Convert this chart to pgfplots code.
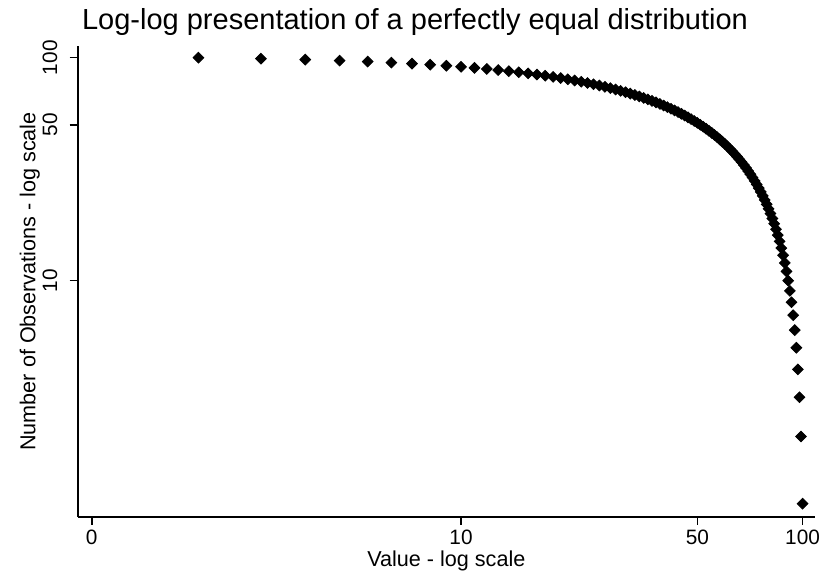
\documentclass[border=0pt]{standalone}
\usepackage{pgfplots}
\pgfplotsset{compat=1.18}
\usepackage{pgfplotstable}
\usepackage{fontspec}
\setmainfont{Liberation Sans}

% value v = 1..100, observations n = 101 - v
\pgfplotstableread{
v n
1 100
2 99
3 98
4 97
5 96
6 95
7 94
8 93
9 92
10 91
11 90
12 89
13 88
14 87
15 86
16 85
17 84
18 83
19 82
20 81
21 80
22 79
23 78
24 77
25 76
26 75
27 74
28 73
29 72
30 71
31 70
32 69
33 68
34 67
35 66
36 65
37 64
38 63
39 62
40 61
41 60
42 59
43 58
44 57
45 56
46 55
47 54
48 53
49 52
50 51
51 50
52 49
53 48
54 47
55 46
56 45
57 44
58 43
59 42
60 41
61 40
62 39
63 38
64 37
65 36
66 35
67 34
68 33
69 32
70 31
71 30
72 29
73 28
74 27
75 26
76 25
77 24
78 23
79 22
80 21
81 20
82 19
83 18
84 17
85 16
86 15
87 14
88 13
89 12
90 11
91 10
92 9
93 8
94 7
95 6
96 5
97 4
98 3
99 2
100 1
}\equaldist

\begin{document}
\begin{tikzpicture}
\begin{axis}[
    name=ax,
    width=368.65pt, height=235.5pt, scale only axis,
    xmode=log, ymode=log,
    xmin=0.913, xmax=109.5,
    ymin=0.871, ymax=112.8,
    axis lines*=left,
    axis line style={line width=1pt},
    every tick/.style={black, line width=0.8pt},
    tick align=outside,
    major tick length=4pt,
    minor xtick={}, minor ytick={},
    xtick={1,11,51,101}, xticklabels={0,10,50,100},
    ytick={10,50,100}, yticklabels={10,50,100},
    log basis x=10, log basis y=10,
    ticklabel style={font=\fontsize{10.4}{12}\selectfont},
    yticklabel style={rotate=90, anchor=south, inner sep=0pt, yshift=6pt},
    xticklabel style={anchor=base, inner sep=0pt, yshift=-10pt},
    label style={font=\fontsize{10.8}{12}\selectfont},
    xlabel={Value - log scale},
    xlabel style={at={(axis description cs:0.5,0)}, anchor=base, inner sep=0pt, yshift=-24.6pt},
    ylabel={Number of Observations - log scale},
    ylabel style={at={(axis description cs:0,0.5)}, anchor=center, inner sep=0pt, yshift=23.9pt},
    title={Log-log presentation of a perfectly equal distribution},
    title style={at={(axis description cs:0,1)}, anchor=base west, inner sep=0pt, xshift=2pt, yshift=2pt, font=\fontsize{14.5}{16}\selectfont},
    clip=false,
]
\addplot[only marks, mark=square*, mark size=1.9pt, black,
    every mark/.append style={rotate=45}]
    table[x expr=\thisrow{v}+1, y=n] {\equaldist};
\end{axis}
\path ([shift={(-38.85pt,-27.5pt)}]ax.south west) rectangle ([shift={(9pt,23pt)}]ax.north east);
\end{tikzpicture}
\end{document}
